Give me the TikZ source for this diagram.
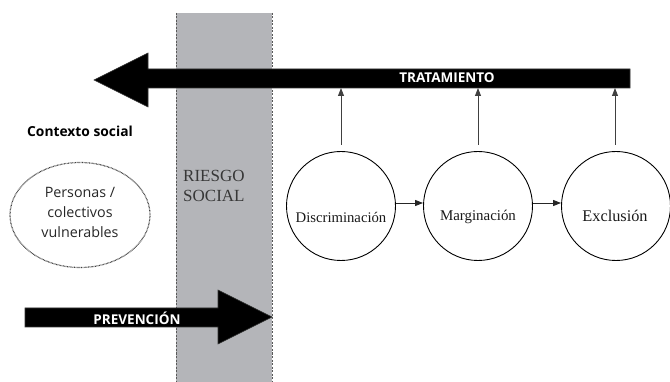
\documentclass[tikz,border=0pt]{standalone}
\usepackage{fontspec}
\setmainfont{Liberation Serif}
\newfontfamily\osans{Open Sans}
\usetikzlibrary{arrows.meta,shapes.geometric}
\definecolor{bandgray}{RGB}{180,181,185}
\definecolor{txtgray}{RGB}{55,55,55}
\begin{document}
\begin{tikzpicture}[x=1pt,y=-1pt,
  bigarrow/.style={fill=black,draw=black!80,line width=0.6pt},
  arrlabel/.style={text=white,font=\osans\bfseries\fontsize{13.5}{15}\selectfont,inner sep=0pt},
  stage/.style={circle,draw=black,line width=0.9pt,minimum size=109pt,inner sep=0pt},
  stagetxt/.style={text=black!90},
  upline/.style={draw=black!75,line width=0.9pt,-{Triangle[width=6pt,length=8pt]}},
  flow/.style={draw=black!85,line width=0.9pt,-{Triangle[width=6pt,length=8pt]}},
]
\useasboundingbox (0,0) rectangle (670,382);
% gray band
\fill[bandgray] (176,13) rectangle (272,382);
\draw[black!65,dash pattern=on 2pt off 1.5pt,line width=0.8pt] (176,13) -- (176,382) (272,13) -- (272,382);
\node[anchor=north west,font=\fontsize{17}{20}\selectfont,text=txtgray,align=left,inner sep=0pt] (riesgo) at (183,170) {RIESGO\\SOCIAL};
% tratamiento arrow
\path[bigarrow] (630,69) -- (148,69) -- (148,53) -- (94,80) -- (148,107) -- (148,88) -- (630,88) -- cycle;
\node[arrlabel] (trat) at (447,78) {TRATAMIENTO};
\coordinate (bar1) at (341,88);
\coordinate (bar2) at (478,88);
\coordinate (bar3) at (615,88);
% prevencion arrow
\path[bigarrow] (25,308) -- (218,308) -- (218,290) -- (272,317) -- (218,344) -- (218,327) -- (25,327) -- cycle;
\node[arrlabel] (prev) at (137,318) {PREVENCIÓN};
% contexto social
\node[font=\osans\bfseries\fontsize{13.8}{15}\selectfont,anchor=west,inner sep=0pt] (ctx) at (27,131) {Contexto social};
\node[ellipse,draw=black!75,dash pattern=on 0.7pt off 0.7pt,line width=1.2pt,minimum width=140pt,minimum height=105pt,inner sep=0pt] (pers) at (80,215) {};
\node[font=\osans\fontsize{14.3}{20}\selectfont,align=center,text=black!85,inner sep=0pt] (perstxt) at (80,212) {Personas /\\colectivos\\vulnerables};
% circles
\node[stage] (c1) at (341,206) {};
\node[stage] (c2) at (478,206) {};
\node[stage] (c3) at (616,206) {};
\node[stagetxt,font=\fontsize{14.7}{16}\selectfont] (t1) at (341,217) {Discriminación};
\node[stagetxt,font=\fontsize{14.9}{16}\selectfont] (t2) at (478,217) {Marginación};
\node[stagetxt,font=\fontsize{16.3}{18}\selectfont] (t3) at (615,216) {Exclusión};
% arrows
\draw[flow] (c1.east |- 0,203) -- (c2.west |- 0,203);
\draw[flow] (c2.east |- 0,203) -- (c3.west |- 0,203);
\draw[upline] (341,145) -- (bar1);
\draw[upline] (478,145) -- (bar2);
\draw[upline] (615,145) -- (bar3);
\end{tikzpicture}
\end{document}
